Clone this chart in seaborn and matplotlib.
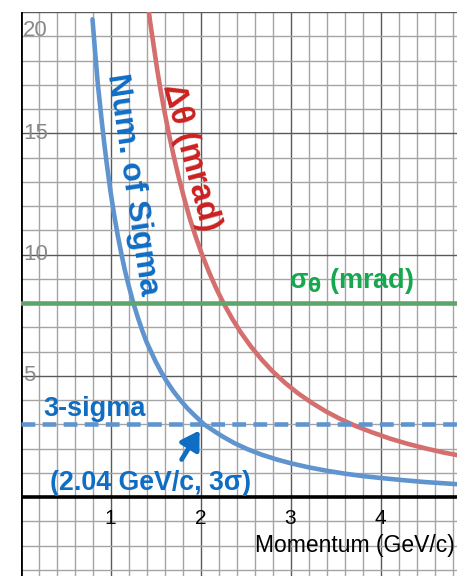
import matplotlib
matplotlib.use("Agg")
import matplotlib.pyplot as plt
import numpy as np
import pandas as pd
import seaborn as sns

# Number of sigma of separation vs momentum
sigma_p = [0.80, 0.83, 0.86, 0.90, 0.93, 0.96, 1.00, 1.04, 1.08, 1.12, 1.16, 1.20,
           1.25, 1.30, 1.35, 1.40, 1.45, 1.50, 1.56, 1.62, 1.70, 1.78, 1.86, 1.94,
           2.04, 2.14, 2.25, 2.38, 2.52, 2.68, 2.85, 3.00, 3.20, 3.40, 3.60, 3.80,
           4.00, 4.25, 4.50, 4.75, 4.90]
sigma_n = [19.7, 18.3, 17.0, 15.6, 14.6, 13.7, 12.6, 11.65, 10.8, 10.05, 9.35, 8.75,
           8.05, 7.45, 6.9, 6.4, 6.0, 5.6, 5.18, 4.8, 4.36, 3.98, 3.64, 3.35,
           3.0, 2.75, 2.49, 2.22, 1.98, 1.75, 1.55, 1.4, 1.23, 1.09, 0.97, 0.87,
           0.79, 0.70, 0.62, 0.56, 0.52]

# Angular difference (mrad) vs momentum
dtheta_p = [1.40, 1.44, 1.48, 1.52, 1.56, 1.60, 1.65, 1.70, 1.76, 1.82, 1.88, 1.95,
            2.02, 2.10, 2.18, 2.26, 2.35, 2.45, 2.56, 2.68, 2.80, 2.94, 3.08, 3.24,
            3.40, 3.56, 3.72, 3.90, 4.10, 4.30, 4.50, 4.70, 4.90]
dtheta_v = [20.8, 19.6, 18.6, 17.6, 16.7, 15.9, 14.95, 14.1, 13.15, 12.3, 11.5, 10.7,
            9.97, 9.23, 8.56, 7.97, 7.37, 6.78, 6.21, 5.67, 5.19, 4.71, 4.29, 3.88,
            3.52, 3.21, 2.94, 2.68, 2.42, 2.2, 2.01, 1.84, 1.7]

sigma_theta = 8.0      # angular resolution (mrad)
three_sigma = 3.0
cross_p = 2.04

x_ticks = [1, 2, 3, 4, 5]
y_ticks = [5, 10, 15, 20]

sns.set_theme(style="white")
plt.rcParams["font.family"] = ["Liberation Sans", "DejaVu Sans"]

W, H, DPI = 457, 576, 100
fig = plt.figure(figsize=(W / DPI, H / DPI), dpi=DPI)
ax = fig.add_axes([20.5 / W, 0, (W - 20.5) / W, (H - 12) / H])
xmax = (W - 20.5) / 90.0
ymin = -(H - 497) / 24.3
ax.set_xlim(0, xmax)
ax.set_ylim(ymin, 20)

# graph-paper grid
for xv in np.arange(0.2, xmax, 0.2):
    major = abs(xv - round(xv)) < 1e-6
    ax.axvline(xv, color="#5a5a5a" if major else "#a4a4a4", lw=1.0, zorder=0)
for yv in range(-3, 21):
    if yv == 0:
        continue
    ax.axhline(yv, color="#5a5a5a" if yv % 5 == 0 else "#a4a4a4", lw=1.0, zorder=0)

ax.axhline(0, color="black", lw=2.6, zorder=1)
ax.axvline(0, color="black", lw=2.0, zorder=1)

for s in ax.spines.values():
    s.set_visible(False)
ax.set_xticks([])
ax.set_yticks([])

df_sig = pd.DataFrame({"p": sigma_p, "n": sigma_n})
df_dth = pd.DataFrame({"p": dtheta_p, "v": dtheta_v})

sns.lineplot(data=df_dth, x="p", y="v", ax=ax, color="#d56f6f", lw=3.3, sort=False, zorder=3)
sns.lineplot(data=df_sig, x="p", y="n", ax=ax, color="#5f94cf", lw=3.3, sort=False, zorder=3)
ax.axhline(sigma_theta, color="#5ea56c", lw=3.3, zorder=3)
ax.axhline(three_sigma, color="#5f94cf", lw=3.3, ls=(0, (3.0, 1.6)), zorder=3)
ax.set_xlabel("")
ax.set_ylabel("")

# axis numbers
for xv in x_ticks[:-1]:
    ax.text(xv, -0.87, str(xv), ha="center", va="center", fontsize=15, color="black")
ax.text(4.83, -0.87, str(x_ticks[-1]), ha="left", va="center", fontsize=15, color="black")
for yv in y_ticks:
    yy = yv if yv < 20 else 19.22
    ax.text(0.03, yy, str(yv), ha="left", va="center", fontsize=16, color="#8a8a8a")

ax.text(3.72, -2.0, "Momentum (GeV/c)", ha="center", va="center", fontsize=16.5, color="black")

# curve labels
bold = dict(fontweight="bold", ha="center", va="center", rotation_mode="anchor")
ax.text(1.24, 12.9, "Num. of Sigma", color="#0f6dc4", fontsize=23, rotation=-81.5, **bold)
ax.text(1.89, 14.0, "Δθ (mrad)", color="#cc2020", fontsize=23.5, rotation=-75, **bold)
ax.text(3.68, 8.9, r"σ$_\mathbf{θ}$ (mrad)", color="#17a84f", fontsize=19.5, **bold)
ax.text(0.82, 3.65, "3-sigma", color="#0f6dc4", fontsize=19.5, **bold)
ax.text(1.44, 0.58, f"({cross_p} GeV/c, 3σ)", color="#0f6dc4", fontsize=19.3, **bold)

ax.annotate("", xy=(1.99, 2.75), xytext=(1.79, 1.55),
            arrowprops=dict(arrowstyle="-|>,head_length=0.9,head_width=0.55",
                            color="#0f6dc4", lw=3.4, shrinkA=0, shrinkB=0), zorder=5)

fig.savefig("out.png", dpi=DPI)
